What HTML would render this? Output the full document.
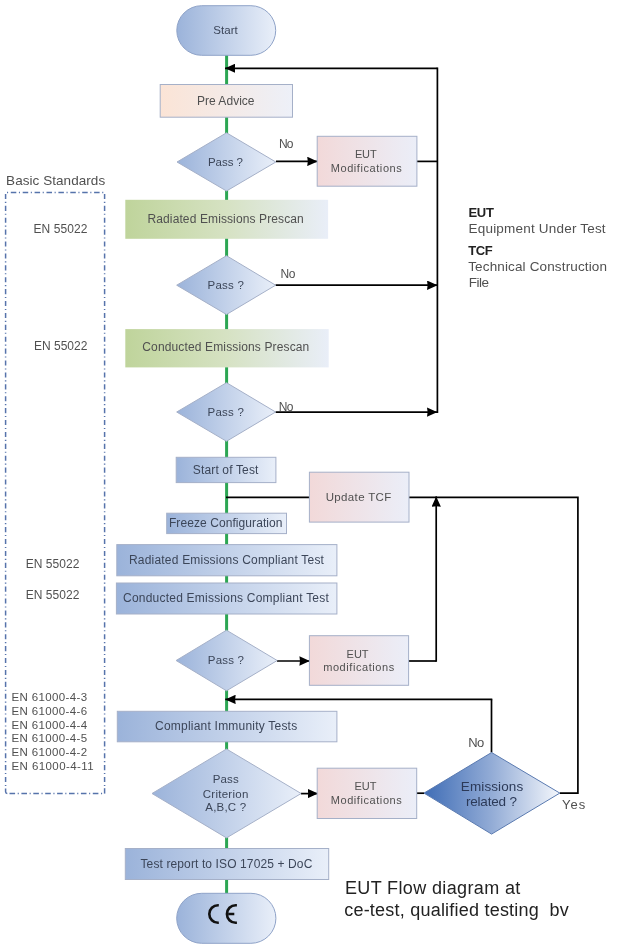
<!DOCTYPE html>
<html><head><meta charset="utf-8">
<style>
html,body{margin:0;padding:0;background:#fff;width:631px;height:947px;overflow:hidden}
svg{display:block}
text{font-family:"Liberation Sans",sans-serif}
</style></head><body>
<svg width="631" height="947" viewBox="0 0 631 947">
<defs>
<linearGradient id="gB" x1="0" x2="1" y1="0" y2="0"><stop offset="0" stop-color="#9bb3da"/><stop offset="1" stop-color="#e9eff9"/></linearGradient>
<linearGradient id="gP" x1="0" x2="1" y1="0" y2="0"><stop offset="0" stop-color="#fbe4d6"/><stop offset="1" stop-color="#edf0f8"/></linearGradient>
<linearGradient id="gR" x1="0" x2="1" y1="0" y2="0"><stop offset="0" stop-color="#f2d9d9"/><stop offset="1" stop-color="#ebeef8"/></linearGradient>
<linearGradient id="gG" x1="0" x2="1" y1="0" y2="0"><stop offset="0" stop-color="#bfd49b"/><stop offset="0.5" stop-color="#d6e2c3"/><stop offset="1" stop-color="#e9eef8"/></linearGradient>
<linearGradient id="gD" x1="0" x2="1" y1="0" y2="0"><stop offset="0" stop-color="#3f6db6"/><stop offset="0.5" stop-color="#93acd6"/><stop offset="1" stop-color="#f4f7fc"/></linearGradient>
<filter id="gray" x="0" y="0" width="631" height="947" filterUnits="userSpaceOnUse" color-interpolation-filters="sRGB"><feOffset dx="0" dy="0"/></filter>
<marker id="aw" viewBox="0 0 10.4 9.4" refX="10.4" refY="4.7" markerWidth="10.4" markerHeight="9.4" markerUnits="userSpaceOnUse" orient="auto"><path d="M0,0L10.4,4.7L0,9.4L0.6,4.7z" fill="#000"/></marker>
</defs>

<!-- basic standards dash-dot box -->
<g stroke="#5673ab" stroke-width="1.5" fill="none">
<line x1="7" y1="192.5" x2="104" y2="192.5" stroke-dasharray="1.1 2.7 5.5 2.6"/>
<line x1="9.5" y1="793.5" x2="104" y2="793.5" stroke-dasharray="5.6 2.6 1.1 2.6"/>
<line x1="5.6" y1="193.9" x2="5.6" y2="786" stroke-dasharray="5.1 2.8 1.1 2.9"/>
<line x1="104.6" y1="193.9" x2="104.6" y2="786" stroke-dasharray="5.1 2.8 1.1 2.9"/>
<path d="M5.6,788.6 L5.6,791.8 Q5.6,793.5 7.3,793.5"/>
<path d="M104.6,788.2 L104.6,793.6"/>
</g>

<!-- green spine -->
<line x1="226.6" y1="55" x2="226.6" y2="894" stroke="#2ca653" stroke-width="3"/>

<!-- black connectors -->
<g stroke="#000" stroke-width="1.7" fill="none">
<line x1="416.5" y1="161.4" x2="437.4" y2="161.4"/>
<line x1="437.4" y1="67.5" x2="437.4" y2="412.9"/>
<line x1="437.4" y1="68.3" x2="225" y2="68.3" marker-end="url(#aw)"/>
<line x1="276" y1="161.4" x2="317.6" y2="161.4" marker-end="url(#aw)"/>
<line x1="275.5" y1="285.2" x2="437.4" y2="285.2" marker-end="url(#aw)"/>
<line x1="275.5" y1="412.1" x2="437.4" y2="412.1" marker-end="url(#aw)"/>
<line x1="226" y1="497.3" x2="310" y2="497.3"/>
<polyline points="409,497.3 577.9,497.3 577.9,793.1 559.8,793.1"/>
<line x1="408.6" y1="661" x2="436.2" y2="661"/>
<line x1="436.2" y1="661.8" x2="436.2" y2="496.4" marker-end="url(#aw)"/>
<line x1="277" y1="661" x2="309.8" y2="661" marker-end="url(#aw)"/>
<polyline points="491.5,752.5 491.5,699.4"/>
<line x1="492.3" y1="699.4" x2="225.3" y2="699.4" marker-end="url(#aw)"/>
<line x1="301" y1="793.6" x2="318" y2="793.6" marker-end="url(#aw)"/>
<line x1="416.7" y1="793.2" x2="424" y2="793.2"/>
</g>

<!-- shapes -->
<g stroke="#a5b0c8" stroke-width="1">
<rect x="176.8" y="5.7" width="98.9" height="49.6" rx="24.8" fill="url(#gB)" stroke="#8fa3c8"/>
<rect x="160.2" y="84.5" width="132.3" height="32.7" fill="url(#gP)"/>
<path d="M177,162L226.5,132.8L275.8,162L226.5,191Z" fill="url(#gB)"/>
<rect x="317.2" y="136.3" width="99.7" height="49.9" fill="url(#gR)"/>
<rect x="125.3" y="199.8" width="202.8" height="39" fill="url(#gG)" stroke="none"/>
<path d="M176.7,285.2L226.5,255.7L275.6,285.2L226.5,314.5Z" fill="url(#gB)"/>
<rect x="125.3" y="329.1" width="203.4" height="38.3" fill="url(#gG)" stroke="none"/>
<path d="M176.7,412L226.5,382.7L275.6,412L226.5,441.3Z" fill="url(#gB)"/>
<rect x="176.2" y="457.3" width="99.7" height="25.3" fill="url(#gB)"/>
<rect x="309.4" y="472.2" width="99.6" height="49.9" fill="url(#gR)"/>
<rect x="166.7" y="513.2" width="119.8" height="20.4" fill="url(#gB)"/>
<rect x="116.8" y="544.6" width="220.1" height="31.2" fill="url(#gB)"/>
<rect x="116.4" y="583" width="220.5" height="31" fill="url(#gB)"/>
<path d="M176.1,660.5L226.5,630.2L277.2,660.5L226.5,690.8Z" fill="url(#gB)"/>
<rect x="309.4" y="635.7" width="99.2" height="49.6" fill="url(#gR)"/>
<rect x="117.3" y="711.3" width="219.6" height="30.5" fill="url(#gB)"/>
<path d="M152,793.5L226.5,749L301.1,793.5L226.5,837.9Z" fill="url(#gB)"/>
<rect x="317.2" y="768.2" width="99.5" height="50.3" fill="url(#gR)"/>
<path d="M424,793.1L491.6,752.5L559.8,793.1L491.6,834.1Z" fill="url(#gD)" stroke="#5a7ab0"/>
<rect x="125.3" y="848.5" width="203.4" height="31" fill="url(#gB)"/>
<rect x="176.7" y="893.3" width="99.2" height="50" rx="25" fill="url(#gB)" stroke="#8fa3c8"/>
</g>

<!-- CE mark -->
<g fill="none" stroke="#111" stroke-width="2.6">
<path d="M218.8,905.2 L218.1,905.2 A8.8,8.8 0 0 0 218.1,922.8 L218.8,922.8"/>
<path d="M236.9,905.2 L235.7,905.2 A8.8,8.8 0 0 0 235.7,922.8 L236.9,922.8 M228.4,914 L234.3,914"/>
</g>

<g filter="url(#gray)">
<text x="6.10" y="184.90" textLength="99.06" lengthAdjust="spacing" style="font-size:13.5px;font-weight:400;fill:#505050" xml:space="preserve">Basic Standards</text>
<text x="33.40" y="232.80" textLength="54.03" lengthAdjust="spacing" style="font-size:12px;font-weight:400;fill:#505050" xml:space="preserve">EN 55022</text>
<text x="33.90" y="349.90" textLength="53.53" lengthAdjust="spacing" style="font-size:12px;font-weight:400;fill:#505050" xml:space="preserve">EN 55022</text>
<text x="25.80" y="568.40" textLength="53.53" lengthAdjust="spacing" style="font-size:12px;font-weight:400;fill:#505050" xml:space="preserve">EN 55022</text>
<text x="25.80" y="598.80" textLength="53.53" lengthAdjust="spacing" style="font-size:12px;font-weight:400;fill:#505050" xml:space="preserve">EN 55022</text>
<text x="11.50" y="700.90" textLength="75.58" lengthAdjust="spacing" style="font-size:11.5px;font-weight:400;fill:#505050" xml:space="preserve">EN 61000-4-3</text>
<text x="11.50" y="714.80" textLength="75.58" lengthAdjust="spacing" style="font-size:11.5px;font-weight:400;fill:#505050" xml:space="preserve">EN 61000-4-6</text>
<text x="11.50" y="728.50" textLength="75.58" lengthAdjust="spacing" style="font-size:11.5px;font-weight:400;fill:#505050" xml:space="preserve">EN 61000-4-4</text>
<text x="11.50" y="742.40" textLength="75.58" lengthAdjust="spacing" style="font-size:11.5px;font-weight:400;fill:#505050" xml:space="preserve">EN 61000-4-5</text>
<text x="11.50" y="756.10" textLength="75.58" lengthAdjust="spacing" style="font-size:11.5px;font-weight:400;fill:#505050" xml:space="preserve">EN 61000-4-2</text>
<text x="11.50" y="770.00" textLength="82.09" lengthAdjust="spacing" style="font-size:11.5px;font-weight:400;fill:#505050" xml:space="preserve">EN 61000-4-11</text>
<text x="468.50" y="216.60" textLength="25.41" lengthAdjust="spacing" style="font-size:13px;font-weight:700;fill:#222222" xml:space="preserve">EUT</text>
<text x="468.50" y="232.80" textLength="137.14" lengthAdjust="spacing" style="font-size:13.5px;font-weight:400;fill:#505050" xml:space="preserve">Equipment Under Test</text>
<text x="468.20" y="255.20" textLength="24.54" lengthAdjust="spacing" style="font-size:13px;font-weight:700;fill:#222222" xml:space="preserve">TCF</text>
<text x="468.20" y="271.20" textLength="138.82" lengthAdjust="spacing" style="font-size:13.5px;font-weight:400;fill:#505050" xml:space="preserve">Technical Construction</text>
<text x="468.70" y="286.80" textLength="20.29" lengthAdjust="spacing" style="font-size:13.5px;font-weight:400;fill:#505050" xml:space="preserve">File</text>
<text x="213.20" y="33.90" textLength="24.52" lengthAdjust="spacing" style="font-size:11.5px;font-weight:400;fill:#3c4659" xml:space="preserve">Start</text>
<text x="196.90" y="104.80" textLength="57.66" lengthAdjust="spacing" style="font-size:12px;font-weight:400;fill:#505050" xml:space="preserve">Pre Advice</text>
<text x="207.90" y="165.50" textLength="35.06" lengthAdjust="spacing" style="font-size:11.5px;font-weight:400;fill:#3c4659" xml:space="preserve">Pass ?</text>
<text x="279.00" y="147.70" textLength="14.56" lengthAdjust="spacing" style="font-size:12px;font-weight:400;fill:#505050" xml:space="preserve">No</text>
<text x="354.90" y="158.10" textLength="21.71" lengthAdjust="spacing" style="font-size:11px;font-weight:400;fill:#505050" xml:space="preserve">EUT</text>
<text x="330.70" y="171.50" textLength="71.07" lengthAdjust="spacing" style="font-size:11px;font-weight:400;fill:#505050" xml:space="preserve">Modifications</text>
<text x="147.50" y="222.80" textLength="156.22" lengthAdjust="spacing" style="font-size:12px;font-weight:400;fill:#505050" xml:space="preserve">Radiated Emissions Prescan</text>
<text x="207.60" y="288.90" textLength="36.26" lengthAdjust="spacing" style="font-size:11.5px;font-weight:400;fill:#3c4659" xml:space="preserve">Pass ?</text>
<text x="280.40" y="277.90" textLength="14.96" lengthAdjust="spacing" style="font-size:12px;font-weight:400;fill:#505050" xml:space="preserve">No</text>
<text x="142.30" y="351.40" textLength="166.97" lengthAdjust="spacing" style="font-size:12px;font-weight:400;fill:#505050" xml:space="preserve">Conducted Emissions Prescan</text>
<text x="207.60" y="415.60" textLength="36.26" lengthAdjust="spacing" style="font-size:11.5px;font-weight:400;fill:#3c4659" xml:space="preserve">Pass ?</text>
<text x="278.70" y="411.20" textLength="14.86" lengthAdjust="spacing" style="font-size:12px;font-weight:400;fill:#505050" xml:space="preserve">No</text>
<text x="192.80" y="473.70" textLength="65.59" lengthAdjust="spacing" style="font-size:12px;font-weight:400;fill:#3c4659" xml:space="preserve">Start of Test</text>
<text x="325.70" y="501.20" textLength="65.57" lengthAdjust="spacing" style="font-size:11.5px;font-weight:400;fill:#505050" xml:space="preserve">Update TCF</text>
<text x="168.90" y="526.50" textLength="113.61" lengthAdjust="spacing" style="font-size:12px;font-weight:400;fill:#3c4659" xml:space="preserve">Freeze Configuration</text>
<text x="128.90" y="563.70" textLength="195.06" lengthAdjust="spacing" style="font-size:12px;font-weight:400;fill:#3c4659" xml:space="preserve">Radiated Emissions Compliant Test</text>
<text x="123.00" y="601.60" textLength="205.81" lengthAdjust="spacing" style="font-size:12px;font-weight:400;fill:#3c4659" xml:space="preserve">Conducted Emissions Compliant Test</text>
<text x="207.80" y="664.40" textLength="36.16" lengthAdjust="spacing" style="font-size:11.5px;font-weight:400;fill:#3c4659" xml:space="preserve">Pass ?</text>
<text x="346.60" y="657.50" textLength="21.91" lengthAdjust="spacing" style="font-size:11px;font-weight:400;fill:#505050" xml:space="preserve">EUT</text>
<text x="323.20" y="671.10" textLength="70.98" lengthAdjust="spacing" style="font-size:11px;font-weight:400;fill:#505050" xml:space="preserve">modifications</text>
<text x="155.10" y="730.20" textLength="142.03" lengthAdjust="spacing" style="font-size:12px;font-weight:400;fill:#3c4659" xml:space="preserve">Compliant Immunity Tests</text>
<text x="212.70" y="783.20" textLength="26.05" lengthAdjust="spacing" style="font-size:11.5px;font-weight:400;fill:#3c4659" xml:space="preserve">Pass</text>
<text x="202.70" y="797.60" textLength="45.67" lengthAdjust="spacing" style="font-size:11.5px;font-weight:400;fill:#3c4659" xml:space="preserve">Criterion</text>
<text x="205.30" y="810.70" textLength="40.90" lengthAdjust="spacing" style="font-size:11.5px;font-weight:400;fill:#3c4659" xml:space="preserve">A,B,C ?</text>
<text x="354.60" y="789.80" textLength="21.81" lengthAdjust="spacing" style="font-size:11px;font-weight:400;fill:#505050" xml:space="preserve">EUT</text>
<text x="330.70" y="804.00" textLength="71.07" lengthAdjust="spacing" style="font-size:11px;font-weight:400;fill:#505050" xml:space="preserve">Modifications</text>
<text x="460.80" y="790.90" textLength="62.40" lengthAdjust="spacing" style="font-size:13.5px;font-weight:400;fill:#2c3a58" xml:space="preserve">Emissions</text>
<text x="465.90" y="806.00" textLength="51.02" lengthAdjust="spacing" style="font-size:13.5px;font-weight:400;fill:#2c3a58" xml:space="preserve">related ?</text>
<text x="468.20" y="746.80" textLength="16.06" lengthAdjust="spacing" style="font-size:13px;font-weight:400;fill:#505050" xml:space="preserve">No</text>
<text x="562.00" y="808.80" textLength="23.28" lengthAdjust="spacing" style="font-size:13px;font-weight:400;fill:#505050" xml:space="preserve">Yes</text>
<text x="140.50" y="867.60" textLength="171.81" lengthAdjust="spacing" style="font-size:12px;font-weight:400;fill:#3c4659" xml:space="preserve">Test report to ISO 17025 + DoC</text>
<text x="344.90" y="893.80" textLength="175.49" lengthAdjust="spacing" style="font-size:18px;font-weight:400;fill:#222222" xml:space="preserve">EUT Flow diagram at</text>
<text x="344.20" y="915.50" textLength="224.48" lengthAdjust="spacing" style="font-size:18px;font-weight:400;fill:#222222" xml:space="preserve">ce-test, qualified testing  bv</text>
</g>
</svg>
</body></html>
